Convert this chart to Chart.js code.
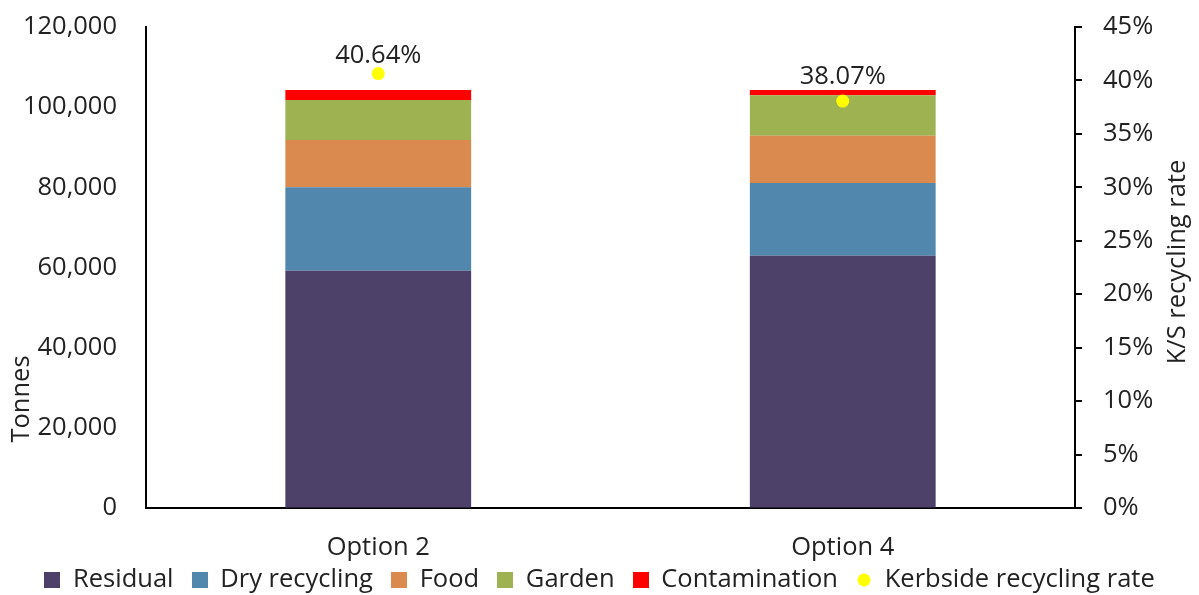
<!DOCTYPE html>
<html>
<head>
<meta charset="utf-8">
<script src="https://cdn.jsdelivr.net/npm/chart.js@4"></script>
<style>
html,body{margin:0;padding:0;background:#fff;}
#wrap{width:1199px;height:595px;position:relative;}
</style>
</head>
<body>
<div id="wrap"><canvas id="c"></canvas></div>
<script>
// ---- Data ----
const categories = ['Option 2', 'Option 4'];
const residual = [59200, 62950];
const dryRecycling = [20800, 18140];
const food = [11800, 11800];
const garden = [10000, 10080];
const contamination = [2500, 1320];
const kerbsideRate = [0.4064, 0.3807];
const seriesNames = ['Residual', 'Dry recycling', 'Food', 'Garden', 'Contamination', 'Kerbside recycling rate'];
const leftAxisTitle = 'Tonnes';
const rightAxisTitle = 'K/S recycling rate';

// ---- Style ----
const FONT = "'Open Sans', sans-serif";
const FS = 25.5;
const TXT = '#222222';
const colors = ['#4D416A', '#5186AD', '#DA8A4F', '#9FB252', '#FF0000', '#FFFF00'];
const labelGaps = [11, 17];
const LEGEND_H = 45.75;
const LEGEND_PAD = 18;
const PLOT_BOTTOM = 508;
const PAD_TOP = 27;
const AXIS_W = 2;

Chart.defaults.font.family = FONT;
Chart.defaults.font.size = FS;
Chart.defaults.color = TXT;

function squareImg(color) {
  const c = document.createElement('canvas');
  c.width = 16; c.height = 16;
  const x = c.getContext('2d');
  x.fillStyle = color; x.fillRect(0, 0, 16, 16);
  return c;
}
function dotImg(color) {
  const c = document.createElement('canvas');
  c.width = 14; c.height = 14;
  const x = c.getContext('2d');
  x.fillStyle = color; x.beginPath(); x.arc(7, 7, 6.5, 0, Math.PI * 2); x.fill();
  return c;
}
const legendImgs = colors.slice(0, 5).map(squareImg).concat([dotImg(colors[5])]);

const extras = {
  id: 'extras',
  afterInit(chart) {
    const lg = chart.legend;
    if (lg && !lg._patched) {
      const origFit = lg.fit;
      lg.fit = function () {
        origFit.call(this);
        this.height = LEGEND_H;
      };
      lg._patched = true;
    }
  },
  afterDatasetsDraw(chart) {
    const ctx = chart.ctx;
    const meta = chart.getDatasetMeta(5);
    ctx.save();
    ctx.font = FS + 'px ' + FONT;
    ctx.fillStyle = TXT;
    ctx.textAlign = 'center';
    ctx.textBaseline = 'alphabetic';
    meta.data.forEach((pt, i) => {
      ctx.fillText((kerbsideRate[i] * 100).toFixed(2) + '%', pt.x, pt.y - labelGaps[i]);
    });
    ctx.textBaseline = 'middle';
    ctx.save();
    ctx.translate(22, 399);
    ctx.rotate(-Math.PI / 2);
    ctx.fillText(leftAxisTitle, 0, 0);
    ctx.restore();
    ctx.save();
    ctx.translate(1178, 262);
    ctx.rotate(-Math.PI / 2);
    ctx.fillText(rightAxisTitle, 0, 0);
    ctx.restore();
    ctx.restore();
  }
};

const barSeries = [residual, dryRecycling, food, garden, contamination];
const datasets = barSeries.map((d, i) => ({
  type: 'bar',
  label: seriesNames[i],
  data: d,
  backgroundColor: colors[i],
  borderWidth: 0,
  yAxisID: 'y',
  stack: 's',
  order: 1,
  barPercentage: 0.4,
  categoryPercentage: 1.0
}));
datasets.push({
  type: 'line',
  label: seriesNames[5],
  data: kerbsideRate,
  yAxisID: 'y1',
  showLine: false,
  pointRadius: 6.5,
  pointHoverRadius: 6.5,
  pointBackgroundColor: colors[5],
  pointBorderWidth: 0,
  backgroundColor: colors[5],
  borderColor: colors[5],
  order: 0
});

function fitVertical(width) {
  return function (s) {
    s.width = width;
    s.paddingTop = 0;
    s.paddingBottom = 0;
  };
}

new Chart(document.getElementById('c'), {
  data: { labels: categories, datasets },
  options: {
    responsive: true,
    maintainAspectRatio: false,
    animation: false,
    layout: { padding: { top: PAD_TOP, left: 0, right: 0, bottom: 0 } },
    plugins: {
      tooltip: { enabled: false },
      legend: {
        position: 'bottom',
        labels: {
          usePointStyle: true,
          boxWidth: 16,
          boxHeight: 16,
          padding: LEGEND_PAD,
          color: TXT,
          font: { size: FS, family: FONT },
          sort: (a, b) => a.datasetIndex - b.datasetIndex,
          generateLabels(chart) {
            const items = Chart.defaults.plugins.legend.labels.generateLabels(chart);
            items.forEach(it => { it.pointStyle = legendImgs[it.datasetIndex]; it.lineWidth = 0; });
            return items;
          }
        }
      }
    },
    scales: {
      x: {
        stacked: true,
        grid: { display: false, drawTicks: false },
        border: { display: true, color: '#000', width: AXIS_W },
        ticks: { padding: 24, color: TXT, font: { size: FS } },
        afterFit(s) {
          s.height = 595 - LEGEND_H - PLOT_BOTTOM;
          s._computeLabelArea = () => null;
        }
      },
      y: {
        stacked: true,
        position: 'left',
        min: 0, max: 120000,
        ticks: {
          stepSize: 20000,
          padding: 29,
          color: TXT,
          font: { size: FS },
          callback: v => v.toLocaleString('en-US')
        },
        grid: { display: true, drawOnChartArea: false, drawTicks: false },
        border: { display: true, color: '#000', width: AXIS_W },
        afterFit: fitVertical(146)
      },
      y1: {
        position: 'right',
        min: 0, max: 0.45,
        ticks: {
          stepSize: 0.05,
          padding: 21,
          color: TXT,
          font: { size: FS },
          callback: v => Math.round(v * 100) + '%'
        },
        grid: { display: true, drawOnChartArea: false, drawTicks: true, tickLength: 7, color: '#000', lineWidth: AXIS_W },
        border: { display: true, color: '#000', width: AXIS_W },
        afterFit: fitVertical(124)
      }
    }
  },
  plugins: [extras]
});
</script>
</body>
</html>
